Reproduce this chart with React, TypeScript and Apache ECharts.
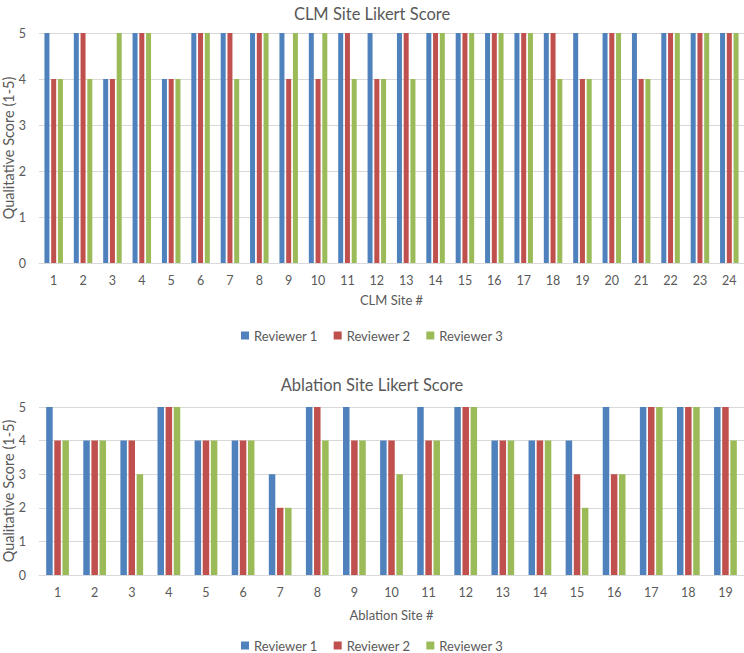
import React, { useEffect, useRef } from "react";
import * as echarts from "echarts";

const clmSites = ["1","2","3","4","5","6","7","8","9","10","11","12","13","14","15","16","17","18","19","20","21","22","23","24"];
const clmR1 = [5,5,4,5,4,5,5,5,5,5,5,5,5,5,5,5,5,5,5,5,5,5,5,5];
const clmR2 = [4,5,4,5,4,5,5,5,4,4,5,4,5,5,5,5,5,5,4,5,4,5,5,5];
const clmR3 = [4,4,5,5,4,5,4,5,5,5,4,4,4,5,5,5,5,4,4,5,4,5,5,5];

const ablSites = ["1","2","3","4","5","6","7","8","9","10","11","12","13","14","15","16","17","18","19"];
const ablR1 = [5,4,4,5,4,4,3,5,5,4,5,5,4,4,4,5,5,5,5];
const ablR2 = [4,4,4,5,4,4,2,5,4,4,4,5,4,4,3,3,5,5,5];
const ablR3 = [4,4,3,5,4,4,2,4,4,3,4,5,4,4,2,3,5,5,4];

const reviewers = ["Reviewer 1", "Reviewer 2", "Reviewer 3"];
const colors = ["#4F81BD", "#C0504D", "#9BBB59"];

const FONT = "Lato";
const GREY = "#595959";
const LINE = "#D9D9D9";

export default function App() {
  const ref = useRef<HTMLDivElement>(null);
  useEffect(() => {
    document.body.style.margin = "0";
    const chart = echarts.init(ref.current!, null, { renderer: "svg" });
    const xAxisBase = (idx: number, data: string[], name: string, gap: number) => ({
      type: "category",
      gridIndex: idx,
      data,
      name,
      nameLocation: "middle",
      nameGap: gap,
      nameMoveOverlap: false,
      nameTextStyle: { color: GREY, fontFamily: FONT, fontSize: 13 },
      axisLine: { lineStyle: { color: LINE, width: 1 } },
      axisTick: { show: false },
      axisLabel: { color: GREY, fontFamily: FONT, fontSize: 12.5, margin: 11 },
    });
    const yAxisBase = (idx: number) => ({
      type: "value",
      gridIndex: idx,
      min: 0,
      max: 5,
      interval: 1,
      name: "Qualitative Score (1-5)",
      nameLocation: "middle",
      nameGap: 23.5,
      nameMoveOverlap: false,
      nameTextStyle: { color: GREY, fontFamily: FONT, fontSize: 14.5 },
      axisLine: { show: false },
      axisTick: { show: false },
      axisLabel: { color: GREY, fontFamily: FONT, fontSize: 12.5, margin: 13 },
      splitLine: { lineStyle: { color: LINE, width: 1 } },
    });
    const topData = [clmR1, clmR2, clmR3];
    const botData = [ablR1, ablR2, ablR3];
    const series: any[] = [];
    reviewers.forEach((name, i) => {
      series.push({
        type: "bar",
        name,
        data: topData[i],
        xAxisIndex: 0,
        yAxisIndex: 0,
        barWidth: 5,
        barGap: "35%",
        itemStyle: { color: colors[i] },
      });
    });
    reviewers.forEach((name, i) => {
      series.push({
        type: "bar",
        name,
        data: botData[i],
        xAxisIndex: 1,
        yAxisIndex: 1,
        barWidth: 6.5,
        barGap: "25%",
        itemStyle: { color: colors[i] },
      });
    });
    const legendBase = (top: number) => ({
      data: reviewers,
      top,
      left: "center",
      icon: "rect",
      itemWidth: 8,
      itemHeight: 8,
      itemGap: 16,
      padding: 0,
      textStyle: { color: GREY, fontFamily: FONT, fontSize: 13 },
      selectedMode: false,
    });
    chart.setOption({
      animation: false,
      backgroundColor: "#ffffff",
      title: [
        { text: "CLM Site Likert Score", left: "center", top: 0, textStyle: { color: GREY, fontFamily: FONT, fontSize: 16.5, fontWeight: "normal" } },
        { text: "Ablation Site Likert Score", left: "center", top: 371, textStyle: { color: GREY, fontFamily: FONT, fontSize: 16.5, fontWeight: "normal" } },
      ],
      legend: [legendBase(329), legendBase(639)],
      grid: [
        { left: 39, right: 0, top: 33, height: 230, outerBoundsMode: "none", containLabel: false },
        { left: 39, right: 0, top: 407, height: 168, outerBoundsMode: "none", containLabel: false },
      ],
      xAxis: [xAxisBase(0, clmSites, "CLM Site #", 30), xAxisBase(1, ablSites, "Ablation Site #", 33)],
      yAxis: [yAxisBase(0), yAxisBase(1)],
      series,
    });
    return () => chart.dispose();
  }, []);
  return <div ref={ref} style={{ width: 744, height: 653 }} />;
}
